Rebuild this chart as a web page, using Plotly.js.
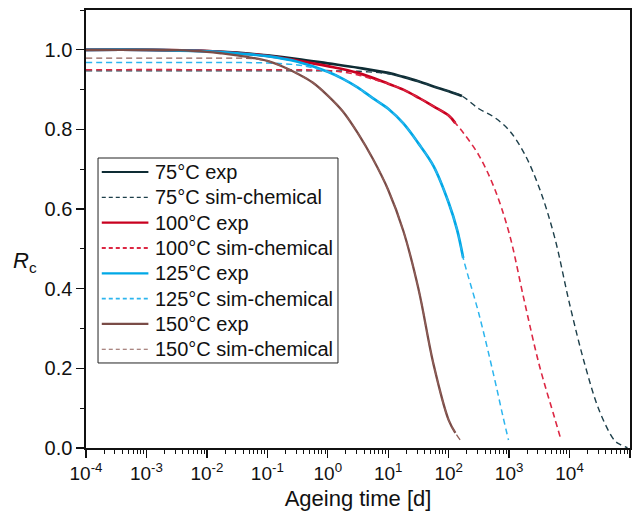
<!DOCTYPE html>
<html>
<head>
<meta charset="utf-8">
<script src="https://cdn.plot.ly/plotly-3.0.1.min.js"></script>
<style>html,body{margin:0;padding:0;background:#fff;}#chart{width:643px;height:521px;}</style>
</head>
<body>
<div id="chart"></div>
<script>
// ---- data (ageing time in days, R_c) ----
const t75exp = [0.0001, 0.001, 0.01, 0.0316, 0.1, 0.316, 1, 3.16, 10, 17.8, 31.6, 56.2, 100, 166];
const r75exp = [1.000, 1.000, 0.997, 0.993, 0.986, 0.977, 0.966, 0.955, 0.942, 0.932, 0.921, 0.908, 0.896, 0.884];

const t75sim = [0.0001, 0.01, 1, 3.16, 10, 17.8, 31.6, 56.2, 100, 166, 316, 562, 1000, 1780, 3160, 5620, 10000, 17800, 31600, 56200, 70800, 91000];
const r75sim = [0.947, 0.947, 0.947, 0.946, 0.940, 0.932, 0.921, 0.908, 0.896, 0.884, 0.852, 0.831, 0.798, 0.740, 0.653, 0.531, 0.362, 0.211, 0.091, 0.018, 0.008, 0.001];

const t100exp = [0.0001, 0.001, 0.01, 0.0316, 0.1, 0.316, 1, 3.16, 10, 17.8, 31.6, 56.2, 100, 129];
const r100exp = [1.000, 1.000, 0.997, 0.992, 0.985, 0.973, 0.959, 0.942, 0.915, 0.900, 0.880, 0.858, 0.835, 0.816];

const t100sim = [0.0001, 0.01, 1, 1.78, 3.16, 5.62, 10, 17.8, 31.6, 56.2, 100, 129, 178, 316, 562, 1000, 1780, 3160, 5620, 7080];
const r100sim = [0.950, 0.950, 0.948, 0.944, 0.937, 0.926, 0.915, 0.900, 0.880, 0.858, 0.835, 0.816, 0.790, 0.735, 0.655, 0.540, 0.370, 0.208, 0.077, 0.025];

const t125exp = [0.0001, 0.001, 0.01, 0.0316, 0.1, 0.316, 1, 1.78, 3.16, 5.62, 10, 17.8, 31.6, 56.2, 100, 138, 174];
const r125exp = [1.000, 1.000, 0.996, 0.991, 0.984, 0.970, 0.945, 0.927, 0.905, 0.878, 0.852, 0.815, 0.765, 0.708, 0.616, 0.548, 0.477];

const t125sim = [0.0001, 0.01, 0.1, 0.316, 0.562, 1, 1.78, 3.16, 5.62, 10, 17.8, 31.6, 56.2, 100, 138, 174, 316, 562, 794, 977];
const r125sim = [0.968, 0.968, 0.967, 0.962, 0.955, 0.945, 0.927, 0.905, 0.878, 0.852, 0.815, 0.765, 0.708, 0.616, 0.548, 0.477, 0.337, 0.180, 0.078, 0.020];

const t150exp = [0.0001, 0.001, 0.00316, 0.01, 0.0178, 0.0316, 0.0562, 0.1, 0.178, 0.316, 0.562, 1, 1.78, 3.16, 5.62, 10, 17.8, 31.6, 56.2, 100, 129];
const r150exp = [1.000, 1.000, 0.999, 0.995, 0.991, 0.986, 0.980, 0.972, 0.958, 0.940, 0.918, 0.885, 0.845, 0.790, 0.725, 0.648, 0.545, 0.400, 0.210, 0.070, 0.038];

const t150sim = [0.0001, 0.01, 0.0316, 0.0562, 0.1, 0.178, 0.316, 0.562, 1, 1.78, 3.16, 5.62, 10, 17.8, 31.6, 56.2, 100, 129, 155];
const r150sim = [0.979, 0.979, 0.979, 0.978, 0.972, 0.958, 0.940, 0.918, 0.885, 0.845, 0.790, 0.725, 0.648, 0.545, 0.400, 0.210, 0.070, 0.038, 0.020];

const names = ["75°C exp", "75°C sim-chemical", "100°C exp", "100°C sim-chemical",
               "125°C exp", "125°C sim-chemical", "150°C exp", "150°C sim-chemical"];
const xTickVals = [1e-4, 1e-3, 1e-2, 1e-1, 1e0, 1e1, 1e2, 1e3, 1e4, 1e5];
const xTickText = ["10<sup>-4</sup>", "10<sup>-3</sup>", "10<sup>-2</sup>", "10<sup>-1</sup>", "10<sup>0</sup>",
                   "10<sup>1</sup>", "10<sup>2</sup>", "10<sup>3</sup>", "10<sup>4</sup>", "10<sup>5</sup>"];

// ---- styling ----
const DASH = "6px,4px";
const series = [
  [t75exp, r75exp, "#0e2c34", "solid", 2.7],
  [t75sim, r75sim, "#1d3f4a", DASH, 1.4],
  [t100exp, r100exp, "#c8001f", "solid", 2.7],
  [t100sim, r100sim, "#dc2743", DASH, 1.6],
  [t125exp, r125exp, "#00a8e6", "solid", 2.7],
  [t125sim, r125sim, "#2cb5ee", DASH, 1.5],
  [t150exp, r150exp, "#7a4c47", "solid", 2.3],
  [t150sim, r150sim, "#8f5f59", DASH, 1.3]
];

const traces = series.map((s, i) => ({
  x: s[0], y: s[1], name: names[i], type: "scatter", mode: "lines", showlegend: false,
  line: {color: s[2], dash: s[3], width: s[4], shape: "spline", smoothing: 1}
}));

const minorX = [];
for (let e = -4; e < 5; e++) for (let m = 2; m <= 9; m++) minorX.push(m * Math.pow(10, e));

// ---- hand-built legend box (paper coordinates) ----
const L = {x0: 0.0221, x1: 0.4632, y0: 0.1941, y1: 0.6621, top: 0.6301, step: 0.0578,
           lx0: 0.0290, lx1: 0.1147, tx: 0.1230};
const shapes = [{type: "rect", xref: "paper", yref: "paper", x0: L.x0, x1: L.x1, y0: L.y0, y1: L.y1,
                 line: {color: "#222", width: 1}, fillcolor: "#fff", layer: "above"}];
const annotations = [];
const font = "Liberation Sans, Arial, sans-serif";
const legendWidths = [2.2, 1.2, 2.2, 2.0, 2.2, 1.6, 2.2, 1.2];
series.forEach((s, i) => {
  const yy = L.top - i * L.step;
  shapes.push({type: "line", xref: "paper", yref: "paper", x0: L.lx0, x1: L.lx1, y0: yy, y1: yy,
               line: {color: s[2], dash: s[3] === "solid" ? "solid" : "4px,3px", width: legendWidths[i]}, layer: "above"});
  annotations.push({xref: "paper", yref: "paper", x: L.tx, y: yy, xanchor: "left", yanchor: "middle",
                    text: names[i], showarrow: false, font: {family: font, size: 20, color: "#111"}});
});
annotations.push({xref: "paper", yref: "paper", x: -0.112, y: 0.425, xanchor: "center", yanchor: "middle",
                  text: "<i>R</i><sub>c</sub>", showarrow: false, font: {family: font, size: 22, color: "#111"}});

const layout = {
  width: 643, height: 521,
  margin: {l: 86, r: 13, t: 10, b: 73},
  paper_bgcolor: "#fff", plot_bgcolor: "#fff",
  font: {family: font, size: 20, color: "#111"},
  showlegend: false,
  shapes: shapes, annotations: annotations,
  xaxis: {
    type: "log", range: [-4, 5],
    tickmode: "array", tickvals: xTickVals, ticktext: xTickText,
    ticks: "outside", ticklen: 8, tickwidth: 1.3, tickcolor: "#111",
    minor: {tickmode: "array", tickvals: minorX, ticks: "outside", ticklen: 4, tickwidth: 1, tickcolor: "#111", showgrid: false},
    showline: true, linecolor: "#111", linewidth: 1.6, mirror: true,
    showgrid: false, zeroline: false,
    tickfont: {family: font, size: 19, color: "#111"},
    title: {text: "Ageing time [d]", font: {family: font, size: 22, color: "#111"}, standoff: 7}
  },
  yaxis: {
    range: [0, 1.1], tickmode: "linear", tick0: 0, dtick: 0.2, tickformat: ".1f",
    ticks: "outside", ticklen: 8, tickwidth: 1.3, tickcolor: "#111",
    minor: {dtick: 0.1, ticks: "outside", ticklen: 4, tickwidth: 1, tickcolor: "#111", showgrid: false},
    showline: true, linecolor: "#111", linewidth: 1.6, mirror: true,
    showgrid: false, zeroline: false,
    tickfont: {family: font, size: 20, color: "#111"}
  }
};

Plotly.newPlot("chart", traces, layout, {displayModeBar: false, staticPlot: true});
</script>
</body>
</html>
